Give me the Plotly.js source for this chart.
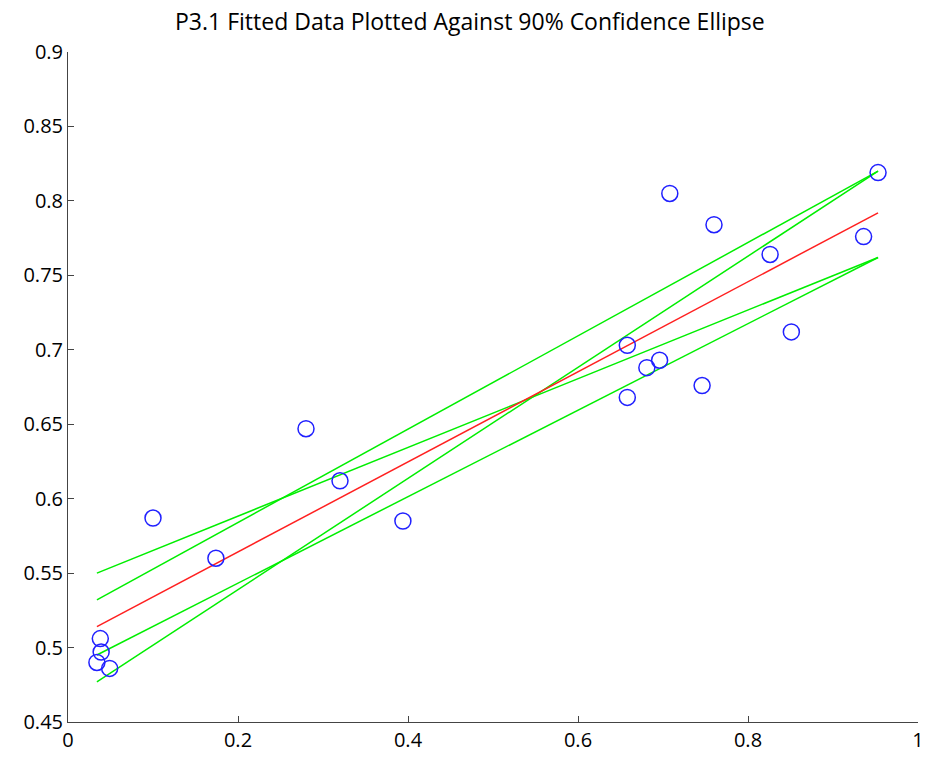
<!DOCTYPE html>
<html>
<head>
<meta charset="utf-8">
<script src="https://cdn.plot.ly/plotly-3.0.1.min.js"></script>
<style>html,body{margin:0;padding:0;background:#fff;}#chart{width:925px;height:762px;}</style>
</head>
<body>
<div id="chart"></div>
<script>
// Observed data points
const dataX = [0.034, 0.038, 0.039, 0.049, 0.100, 0.174, 0.280, 0.320, 0.394, 0.658, 0.658, 0.681, 0.696, 0.708, 0.746, 0.760, 0.826, 0.851, 0.936, 0.953];
const dataY = [0.490, 0.506, 0.497, 0.486, 0.587, 0.560, 0.647, 0.612, 0.585, 0.703, 0.668, 0.688, 0.693, 0.805, 0.676, 0.784, 0.764, 0.712, 0.776, 0.819];

// Fitted line endpoints
const lineX = [0.034, 0.953];
const fitY = [0.514, 0.792];

// Confidence-ellipse extreme lines (endpoints)
const ellipse1Y = [0.550, 0.762];
const ellipse2Y = [0.532, 0.820];
const ellipse3Y = [0.495, 0.762];
const ellipse4Y = [0.477, 0.820];

const green = '#00ee00';
const traces = [
  {x: lineX, y: ellipse1Y, mode: 'lines', line: {color: green, width: 1.5}},
  {x: lineX, y: ellipse2Y, mode: 'lines', line: {color: green, width: 1.5}},
  {x: lineX, y: ellipse3Y, mode: 'lines', line: {color: green, width: 1.5}},
  {x: lineX, y: ellipse4Y, mode: 'lines', line: {color: green, width: 1.5}},
  {x: lineX, y: fitY, mode: 'lines', line: {color: '#ff2020', width: 1.5}},
  {x: dataX, y: dataY, mode: 'markers', marker: {symbol: 'circle-open', size: 16, color: '#2020ff', line: {width: 1.5}}}
];

const font = 'Open Sans, Liberation Sans, sans-serif';
const axisCommon = {
  showgrid: false, zeroline: false, showline: true, linecolor: '#444', linewidth: 1,
  ticks: 'inside', ticklen: 6, tickcolor: '#444', mirror: false,
  tickfont: {family: font, size: 20, color: '#000'}
};

const layout = {
  width: 925, height: 762,
  margin: {l: 68, r: 7, t: 52, b: 40},
  paper_bgcolor: '#fff', plot_bgcolor: '#fff',
  showlegend: false,
  title: {text: 'P3.1 Fitted Data Plotted Against 90% Confidence Ellipse', x: 0.508, xanchor: 'center', y: 0.971, yanchor: 'middle', font: {family: font, size: 23, color: '#000'}},
  xaxis: Object.assign({}, axisCommon, {range: [0, 1], tickvals: [0, 0.2, 0.4, 0.6, 0.8, 1], ticktext: ['0', '0.2', '0.4', '0.6', '0.8', '1']}),
  yaxis: Object.assign({}, axisCommon, {range: [0.45, 0.9], tickvals: [0.45, 0.5, 0.55, 0.6, 0.65, 0.7, 0.75, 0.8, 0.85, 0.9], ticktext: ['0.45', '0.5', '0.55', '0.6', '0.65', '0.7', '0.75', '0.8', '0.85', '0.9']})
};

Plotly.newPlot('chart', traces, layout, {displayModeBar: false, staticPlot: true});
</script>
</body>
</html>
